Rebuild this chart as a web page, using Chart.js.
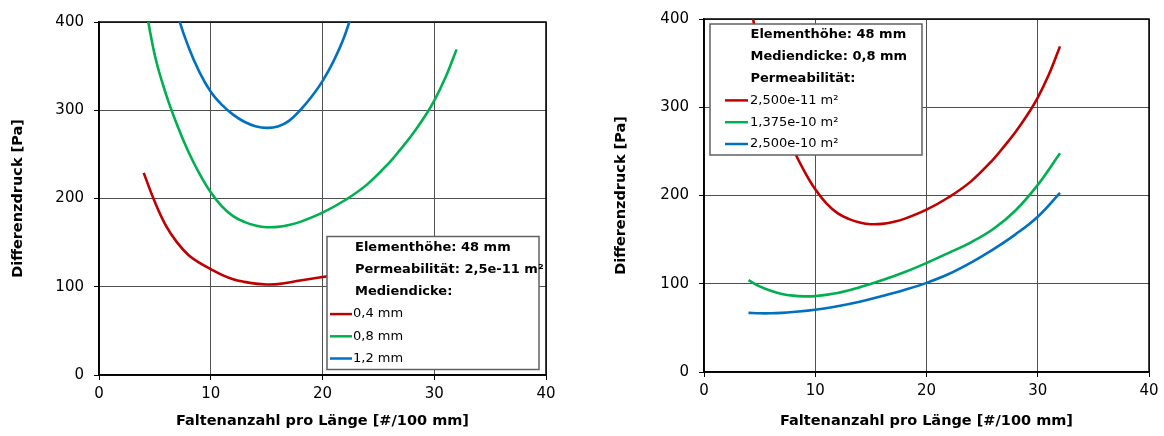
<!DOCTYPE html>
<html>
<head>
<meta charset="utf-8">
<script src="https://cdn.jsdelivr.net/npm/chart.js@4"></script>
<style>
  html, body { margin: 0; padding: 0; background: #fff; }
  #wrap { position: relative; width: 1164px; height: 436px; }
  canvas { position: absolute; top: 0; }
  #leftChart { left: 0; }
  #rightChart { left: 582px; }
</style>
</head>
<body>
<div id="wrap">
  <canvas id="leftChart" width="582" height="436"></canvas>
  <canvas id="rightChart" width="582" height="436"></canvas>
</div>
<script>
// axis ticks (both charts)
const xTicks = [0, 10, 20, 30, 40];
const yTicks = [0, 100, 200, 300, 400];

// left chart: Elementhöhe 48 mm, Permeabilität 2,5e-11 m², varying Mediendicke
const dicke04X = [4, 5, 6, 7, 8, 9, 10, 11, 12, 13, 14, 15, 16, 18, 20, 23, 26, 29, 32];
const dicke04Y = [229, 196, 169, 150, 136, 127, 120, 113.5, 108.5, 105.5, 103.5, 102.6, 103, 107, 111, 117, 125, 136, 150];

const dicke08X = [4, 5, 6, 7, 8, 9, 10, 11, 12, 13, 14, 15, 16, 17, 18, 20, 22, 24, 26, 27, 28, 29, 30, 31, 32];
const dicke08Y = [430, 362, 318, 283, 253, 228, 207, 191, 180, 173.5, 169.5, 167.5, 167.8, 170, 173.5, 184, 198, 216, 241, 256, 272, 290, 311, 337, 369];

const dicke12X = [6.5, 7, 8, 9, 10, 11, 12, 13, 14, 15, 16, 17, 18, 19, 20, 21, 22, 23];
const dicke12Y = [445, 410, 372, 343, 321, 306, 295, 287, 282, 280, 281.5, 288, 300, 315, 333, 356, 385, 425];

// right chart: Elementhöhe 48 mm, Mediendicke 0,8 mm, varying Permeabilität
// 2,500e-11 is the same case as the 0,8 mm curve on the left
const perm1X = dicke08X;
const perm1Y = dicke08Y;

const perm2X = [4, 5, 6, 7, 8, 9, 10, 12, 14, 16, 18, 20, 22, 24, 26, 28, 30, 32];
const perm2Y = [104, 97, 92, 88.5, 86.5, 85.7, 86, 89.5, 96, 104, 113, 123.5, 135, 147, 162, 183, 212, 248];

const perm3X = [4, 5, 6, 7, 8, 10, 12, 14, 16, 18, 20, 22, 24, 26, 28, 30, 32];
const perm3Y = [67, 66.5, 66.5, 67, 68, 70.6, 74.5, 79.5, 86, 93, 101, 111, 124, 139, 156, 176, 203];

const RED = '#C00000', GREEN = '#00B050', BLUE = '#0070C0';

Chart.defaults.font.family = "'DejaVu Sans', sans-serif";
Chart.defaults.color = '#000';

function pts(xs, ys) {
    return xs.map((x, i) => ({ x: x, y: ys[i] }));
}

function series(label, xs, ys, color) {
    return {
        label: label,
        data: pts(xs, ys),
        showLine: true,
        borderColor: color,
        backgroundColor: color,
        borderWidth: 2.6,
        pointRadius: 0,
        tension: 0.4,
        clip: 0
    };
}

// plot frame (Excel style box round the plot area)
const plotFrame = {
    id: 'plotFrame',
    beforeDatasetsDraw(chart) {
        const a = chart.chartArea, ctx = chart.ctx;
        ctx.save();
        ctx.strokeStyle = '#000';
        ctx.lineWidth = 1.5;
        ctx.strokeRect(a.left, a.top, a.right - a.left, a.bottom - a.top);
        ctx.restore();
    }
};

// legend box with header lines, drawn over the curves
const legendBox = {
    id: 'legendBox',
    afterDatasetsDraw(chart, args, o) {
        const ctx = chart.ctx;
        ctx.save();
        ctx.fillStyle = '#fff';
        ctx.fillRect(o.x, o.y, o.w, o.h);
        ctx.strokeStyle = '#606060';
        ctx.lineWidth = 1.5;
        ctx.strokeRect(o.x, o.y, o.w, o.h);
        ctx.textBaseline = 'middle';
        ctx.textAlign = 'left';
        ctx.fillStyle = '#000';
        let y = o.y + o.first;
        ctx.font = "bold 13px 'DejaVu Sans', sans-serif";
        o.headers.forEach(h => {
            ctx.fillText(h, o.headX, y);
            y += o.row;
        });
        ctx.font = "13px 'DejaVu Sans', sans-serif";
        chart.data.datasets.forEach(ds => {
            ctx.strokeStyle = ds.borderColor;
            ctx.lineWidth = 2.5;
            ctx.beginPath();
            ctx.moveTo(o.lineX0, y);
            ctx.lineTo(o.lineX1, y);
            ctx.stroke();
            ctx.fillStyle = '#000';
            ctx.fillText(ds.label, o.textX, y);
            y += o.row;
        });
        ctx.restore();
    }
};

function buildOptions(cfg) {
    return {
        responsive: false,
        animation: false,
        devicePixelRatio: 1,
        layout: { padding: { left: 0, right: cfg.padRight, top: cfg.padTop, bottom: 0 } },
        plugins: {
            legend: { display: false },
            tooltip: { enabled: false },
            legendBox: cfg.legend
        },
        scales: {
            x: {
                type: 'linear',
                min: xTicks[0],
                max: xTicks[xTicks.length - 1],
                afterFit: s => { s.height = cfg.xAxisHeight; },
                ticks: { stepSize: xTicks[1] - xTicks[0], padding: 5, font: { size: 15 } },
                grid: { color: '#505050', lineWidth: 1, tickLength: 5, tickColor: '#000' },
                border: { color: '#000', width: 1.5 },
                title: {
                    display: true,
                    text: 'Faltenanzahl pro Länge [#/100 mm]',
                    font: { size: 14.5, weight: 'bold' },
                    padding: { top: 0, bottom: 5.6 }
                }
            },
            y: {
                type: 'linear',
                min: yTicks[0],
                max: yTicks[yTicks.length - 1],
                afterFit: s => { s.width = cfg.yAxisWidth; },
                ticks: { stepSize: yTicks[1] - yTicks[0], padding: 10, font: { size: 15 } },
                grid: { color: '#505050', lineWidth: 1, tickLength: 5, tickColor: '#000' },
                border: { color: '#000', width: 1.5 },
                title: {
                    display: true,
                    text: 'Differenzdruck [Pa]',
                    font: { size: 14.5, weight: 'bold' },
                    padding: { top: cfg.yTitlePad, bottom: 0 }
                }
            }
        }
    };
}

new Chart(document.getElementById('leftChart'), {
    type: 'scatter',
    data: {
        datasets: [
            series('0,4 mm', dicke04X, dicke04Y, RED),
            series('0,8 mm', dicke08X, dicke08Y, GREEN),
            series('1,2 mm', dicke12X, dicke12Y, BLUE)
        ]
    },
    options: buildOptions({
        padRight: 36, padTop: 22, xAxisHeight: 61, yAxisWidth: 99, yTitlePad: 9.3,
        legend: {
            x: 327, y: 236.5, w: 212, h: 133, first: 11, row: 22.2,
            headX: 355, textX: 353, lineX0: 330, lineX1: 352,
            headers: ['Elementhöhe: 48 mm', 'Permeabilität: 2,5e-11 m²', 'Mediendicke:']
        }
    }),
    plugins: [plotFrame, legendBox]
});

new Chart(document.getElementById('rightChart'), {
    type: 'scatter',
    data: {
        datasets: [
            series('2,500e-11 m²', perm1X, perm1Y, RED),
            series('1,375e-10 m²', perm2X, perm2Y, GREEN),
            series('2,500e-10 m²', perm3X, perm3Y, BLUE)
        ]
    },
    options: buildOptions({
        padRight: 15, padTop: 19, xAxisHeight: 64, yAxisWidth: 122, yTitlePad: 30.3,
        legend: {
            x: 128, y: 24, w: 212, h: 131, first: 11, row: 21.8,
            headX: 168.5, textX: 168, lineX0: 143, lineX1: 166,
            headers: ['Elementhöhe: 48 mm', 'Mediendicke: 0,8 mm', 'Permeabilität:']
        }
    }),
    plugins: [plotFrame, legendBox]
});
</script>
</body>
</html>
